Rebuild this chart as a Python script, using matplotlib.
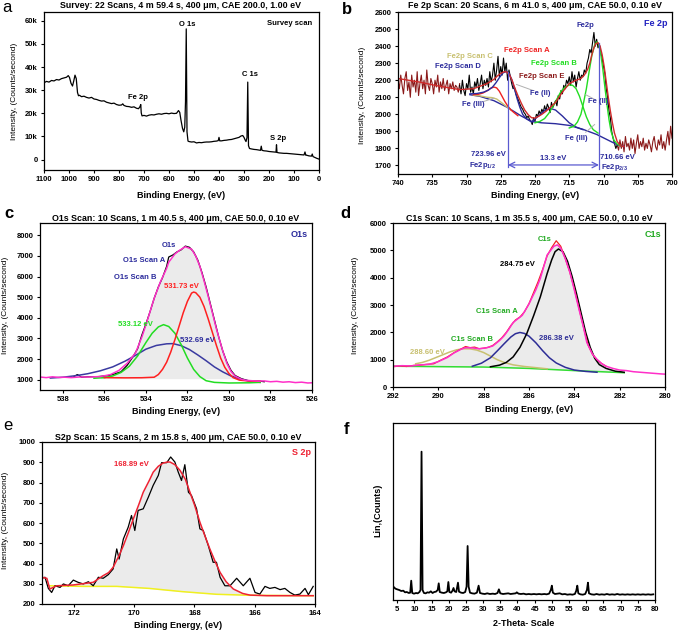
import matplotlib
matplotlib.use("Agg")
import matplotlib.pyplot as plt
import numpy as np
from matplotlib.ticker import FuncFormatter

plt.rcParams["font.family"] = ["Liberation Sans", "DejaVu Sans"]
plt.rcParams["mathtext.fontset"] = "custom"
plt.rcParams["mathtext.rm"] = "Liberation Sans"
plt.rcParams["mathtext.bf"] = "Liberation Sans:bold"

W, H = 681, 632

# ---------------- a: survey (binding energy, counts in k)
survey = [
    (1100, 33.2), (1090, 33.8), (1080, 33.5), (1070, 34.2), (1060, 34.0), (1050, 34.6),
    (1040, 34.4), (1030, 35.0), (1020, 35.3), (1010, 35.6), (1003, 36.3), (998, 35.5),
    (992, 33.0), (986, 31.8), (981, 34.0), (976, 36.5), (971, 35.0), (966, 29.0),
    (962, 27.6), (958, 27.8), (950, 27.2), (940, 27.4), (930, 26.9), (920, 26.6),
    (910, 26.9), (900, 26.2), (890, 26.0), (880, 25.6), (870, 25.3), (860, 25.4),
    (850, 24.8), (840, 24.5), (830, 24.2), (820, 24.4), (810, 23.8), (800, 23.5),
    (790, 23.6), (785, 24.1), (780, 23.4), (770, 23.0), (760, 22.9), (750, 22.6),
    (740, 22.8), (730, 22.2), (722, 22.0), (716, 22.9), (713, 23.8), (711, 20.2),
    (708, 18.9), (700, 19.1), (690, 18.8), (680, 19.2), (670, 19.4), (660, 19.3),
    (650, 19.6), (640, 19.8), (630, 19.6), (620, 19.9), (610, 20.0), (600, 19.8),
    (590, 20.1), (580, 19.9), (570, 20.0), (562, 21.2), (557, 20.4), (552, 17.0),
    (546, 13.5), (541, 12.0), (537, 14.0), (534, 25.0), (531, 56.5), (528, 12.0),
    (524, 8.0), (520, 7.8), (510, 7.6), (500, 7.7), (490, 7.2), (480, 7.4),
    (470, 7.3), (460, 7.5), (450, 7.6), (440, 7.6), (430, 7.7), (420, 7.9),
    (410, 8.0), (403, 8.2), (400, 9.6), (397, 8.1), (390, 8.1), (380, 8.3),
    (370, 8.4), (360, 8.6), (350, 8.7), (340, 9.0), (330, 9.3), (320, 9.6),
    (312, 10.2), (305, 10.4), (300, 9.6), (296, 8.6), (292, 7.8), (288, 9.5),
    (285, 33.5), (282, 6.0), (278, 4.8), (270, 4.6), (260, 4.4), (250, 4.3),
    (240, 4.1), (234, 4.0), (231, 5.8), (228, 4.0), (220, 3.8), (210, 3.7),
    (200, 3.5), (190, 3.4), (180, 3.3), (172, 3.2), (170, 6.4), (168, 3.1),
    (160, 2.9), (150, 2.8), (140, 2.7), (130, 2.7), (120, 2.6), (110, 2.5),
    (100, 2.4), (90, 2.3), (80, 2.2), (70, 2.1), (60, 2.0), (56, 3.3),
    (53, 1.9), (50, 1.9), (40, 1.6), (30, 1.5), (27, 2.4), (24, 1.3),
    (20, 1.1), (10, 0.6), (0, 0.2),
]

# ---------------- b: Fe 2p
fe_raw_left = [2200, 2150, 2230, 2170, 2120, 2210, 2250, 2140, 2190, 2100, 2230, 2160,
               2200, 2130, 2250, 2110, 2180, 2230, 2150, 2200, 2120, 2260, 2170, 2140,
               2210, 2180, 2120, 2200, 2160, 2230, 2130, 2190, 2150, 2210, 2140, 2170,
               2200, 2120, 2180, 2150, 2190, 2140, 2170, 2160, 2130, 2180]
fe_raw_mid = [2170, 2120, 2200, 2140, 2110, 2180, 2150, 2230, 2130, 2160,
              2120, 2190, 2160, 2210, 2140, 2180, 2230, 2150, 2200, 2170,
              2210, 2160, 2250, 2190, 2230, 2300, 2200, 2260, 2340, 2220,
              2280, 2230, 2330, 2250, 2300, 2200, 2260, 2220, 2180, 2150,
              2160, 2120, 2100, 2080, 2060, 2040, 2030, 2010, 2000, 1980,
              1990, 1970, 1960, 1940, 1980, 1960, 2000, 1990, 2020, 2000,
              2030, 2010, 2050, 2020, 2060, 2040, 2010, 2070, 2040, 2060,
              2080, 2050, 2110, 2090, 2140, 2120, 2170, 2150, 2200, 2180,
              2220, 2170, 2250, 2190, 2230, 2160, 2210, 2250, 2200, 2230,
              2220, 2260, 2240, 2300, 2330, 2380, 2360, 2420, 2480, 2400,
              2440, 2390, 2410, 2360, 2330, 2280, 2240, 2150, 2100, 2020,
              1980, 1900, 1860, 1830, 1800, 1820]
fe_raw_right = [1820, 1790, 1850, 1800, 1840, 1780, 1870, 1810, 1830, 1790, 1860, 1800,
                1850, 1770, 1830, 1880, 1800, 1840, 1810, 1860, 1790, 1830, 1800, 1850,
                1820, 1780, 1840, 1870, 1810, 1790, 1850, 1820, 1880, 1800, 1840, 1790,
                1850, 1900, 1820, 1930, 1860]
fe_env = [(740, 2210), (737, 2190), (734, 2165), (731, 2145), (729, 2150), (727, 2180),
          (726, 2205), (725.5, 2225), (725, 2240), (724.5, 2250), (724.1, 2248),
          (723.7, 2230), (723.3, 2195), (723, 2160), (722.5, 2110), (722, 2065),
          (721.5, 2025), (721, 1998), (720.5, 1980), (720, 1978), (719.5, 1988),
          (719, 2000), (718.5, 2015), (718, 2032), (717, 2070), (716, 2130), (715, 2180),
          (714, 2200), (713.3, 2210), (712.8, 2230), (712.3, 2265), (712.0, 2300),
          (711.7, 2350), (711.4, 2390), (711.1, 2415), (710.8, 2420), (710.5, 2400),
          (710.2, 2350), (709.9, 2280), (709.6, 2190), (709.3, 2100), (709.0, 2020),
          (708.7, 1950), (708.4, 1890), (708.0, 1840), (707.5, 1815), (707, 1810)]
fe_base = [(729.5, 2115), (728, 2105), (726, 2080), (724, 2040), (722, 1990),
           (720.5, 1958), (719, 1950), (717, 1945), (715, 1935), (713, 1912),
           (711, 1882), (709.5, 1852), (708, 1822), (707, 1810)]
fe_d = [(729.5, 2120), (728.5, 2122), (727.5, 2130), (726.8, 2142), (726.2, 2160),
        (725.7, 2185), (725.2, 2215), (724.7, 2242), (724.2, 2252), (723.8, 2240),
        (723.4, 2205), (723.0, 2150), (722.6, 2090), (722.2, 2040), (721.8, 2000),
        (721.3, 1975), (720.7, 1960)]
fe_a = [(729, 2115), (728.3, 2117), (727.6, 2125), (727.0, 2138), (726.5, 2152),
        (726.0, 2160), (725.6, 2155), (725.2, 2135), (724.8, 2105), (724.4, 2075),
        (724.0, 2050), (723.5, 2025), (723.0, 2008), (722.5, 1992)]
fe_c = [(729, 2112), (728, 2108), (727, 2100), (726.3, 2098), (725.6, 2090),
        (725, 2072), (724.3, 2050), (723.5, 2025)]
fe_b1 = [(720, 1950), (719.3, 1958), (718.6, 1975), (718.0, 2005), (717.4, 2045),
         (716.8, 2090), (716.2, 2135), (715.6, 2160), (715.0, 2172), (714.5, 2170),
         (714.0, 2150), (713.5, 2105), (713.0, 2045), (712.5, 1985), (712.0, 1940),
         (711.5, 1910), (710.8, 1890)]
fe_b2 = [(715, 1920), (714.3, 1930), (713.8, 1955), (713.3, 2000), (712.9, 2070),
         (712.5, 2150), (712.1, 2250), (711.7, 2345), (711.3, 2405), (711.0, 2425),
         (710.7, 2410), (710.4, 2355), (710.1, 2265), (709.8, 2160), (709.5, 2060),
         (709.2, 1970), (708.9, 1900), (708.5, 1850), (708.0, 1825), (707.5, 1815)]
fe_e = [(720.5, 1955), (719.5, 1990), (718.5, 2025), (717.8, 2035), (717, 2025),
        (716, 1990), (715, 1950), (714, 1925), (713, 1910)]

# ---------------- c: O1s
o1s_env = [(539.1, 1130), (538.8, 1100), (538.5, 1140), (538.2, 1110), (537.9, 1120),
           (537.6, 1100), (537.2, 1130), (536.8, 1130), (536.2, 1150), (535.7, 1250),
           (535.3, 1450), (534.9, 1800), (534.5, 2300), (534.2, 3050), (534.0, 3650),
           (533.6, 4950), (533.3, 5750), (533.0, 6400), (532.9, 6700), (532.6, 7100),
           (532.4, 7260), (532.1, 7450), (531.8, 7330), (531.6, 7000), (531.4, 6500),
           (531.2, 5800), (531.0, 5050), (530.8, 4250), (530.6, 3450), (530.3, 2400),
           (530.1, 1800), (529.9, 1400), (529.7, 1170), (529.4, 1020), (529.2, 970),
           (528.9, 950), (528.6, 930), (528.3, 940), (528.0, 900), (527.7, 920),
           (527.4, 880), (527.1, 900), (526.8, 860), (526.5, 880), (526.2, 840), (526.0, 850)]
o1s_raw = [(537.5, 1130), (537.3, 1250), (537.1, 1120), (536.8, 1140), (536.3, 1150),
           (535.8, 1200), (535.5, 1280), (535.2, 1380), (534.9, 1700), (534.6, 2150),
           (534.4, 2500), (534.2, 3150), (534.0, 3700), (533.8, 4300), (533.6, 4950),
           (533.4, 5500), (533.2, 5950), (533.0, 6500), (532.9, 6950), (532.7, 7050),
           (532.5, 7200), (532.3, 7300), (532.1, 7480), (531.9, 7420), (531.7, 7200),
           (531.5, 6800), (531.3, 6200), (531.1, 5500), (530.9, 4700), (530.7, 3900),
           (530.5, 3100), (530.3, 2400), (530.1, 1850), (529.9, 1450), (529.7, 1200),
           (529.4, 1050), (529.1, 960), (528.8, 930), (528.5, 930), (528.3, 900)]
o1s_red = [(536.0, 1100), (535.0, 1090), (534.2, 1095), (533.6, 1120), (533.4, 1250),
           (533.2, 1500), (533.0, 1850), (532.8, 2350), (532.6, 2950), (532.4, 3600),
           (532.2, 4250), (532.0, 4800), (531.8, 5200), (531.7, 5250), (531.6, 5220),
           (531.4, 5000), (531.2, 4550), (531.0, 3950), (530.8, 3300), (530.6, 2650),
           (530.4, 2050), (530.2, 1600), (530.0, 1300), (529.8, 1100), (529.5, 980),
           (529.0, 930), (528.5, 920)]
o1s_green = [(536.5, 1070), (536.0, 1100), (535.6, 1180), (535.2, 1350), (534.8, 1650),
             (534.4, 2150), (534.0, 2800), (533.7, 3250), (533.4, 3560), (533.15, 3670),
             (532.9, 3580), (532.6, 3250), (532.3, 2700), (532.0, 2050), (531.7, 1500),
             (531.4, 1150), (531.1, 950), (530.7, 870), (530.0, 840), (529.0, 850),
             (528.5, 870)]
o1s_blue = [(538.6, 1080), (538.0, 1120), (537.4, 1190), (536.8, 1290), (536.2, 1430),
            (535.6, 1620), (535.0, 1900), (534.5, 2180), (534.0, 2480), (533.5, 2660),
            (533.0, 2740), (532.7, 2750), (532.3, 2650), (531.9, 2460), (531.5, 2200),
            (531.1, 1920), (530.7, 1620), (530.3, 1380), (529.9, 1180), (529.5, 1040),
            (529.0, 930), (528.5, 870)]

# ---------------- d: C1s
c1s_env = [(292.0, 760), (291.6, 780), (291.2, 770), (290.8, 810), (290.4, 830),
           (290.0, 930), (289.6, 1080), (289.3, 1250), (289.0, 1380), (288.8, 1440),
           (288.5, 1430), (288.2, 1400), (287.9, 1430), (287.6, 1500), (287.3, 1700),
           (287.1, 1870), (286.9, 2100), (286.7, 2360), (286.3, 2620), (286.0, 3040),
           (285.7, 3550), (285.5, 3970), (285.2, 4830), (284.9, 5150), (284.75, 5200),
           (284.6, 5080), (284.4, 4700), (284.2, 4210), (284.0, 3550), (283.8, 2860),
           (283.6, 2200), (283.45, 1630), (283.2, 1200), (283.0, 1010), (282.8, 860),
           (282.6, 760), (282.3, 680), (282.0, 620), (281.7, 600), (281.4, 560),
           (281.1, 540), (280.8, 520), (280.5, 500), (280.2, 480), (280.0, 470)]
c1s_raw = [(292.0, 740), (291.7, 770), (291.4, 750), (291.1, 790), (290.8, 800),
           (290.5, 830), (290.2, 850), (289.9, 980), (289.6, 1100), (289.3, 1260),
           (289.0, 1390), (288.8, 1480), (288.6, 1440), (288.4, 1460), (288.2, 1400),
           (288.0, 1420), (287.8, 1450), (287.6, 1520), (287.4, 1650), (287.2, 1800),
           (287.0, 2000), (286.8, 2250), (286.6, 2450), (286.4, 2560), (286.2, 2750),
           (286.0, 3050), (285.8, 3450), (285.6, 3850), (285.4, 4300), (285.2, 4800),
           (285.0, 5100), (284.8, 5350), (284.6, 5150), (284.4, 4700), (284.2, 4200),
           (284.0, 3600), (283.8, 2900), (283.6, 2200), (283.4, 1550), (283.2, 1200),
           (283.0, 1000), (282.8, 860), (282.6, 760)]
c1s_black = [(287.7, 740), (287.3, 800), (287.0, 900), (286.7, 1100), (286.4, 1450),
             (286.1, 1950), (285.8, 2600), (285.5, 3300), (285.2, 4150), (285.0, 4650),
             (284.85, 4950), (284.7, 5050), (284.5, 4950), (284.3, 4600), (284.1, 4050),
             (283.9, 3400), (283.7, 2700), (283.5, 2000), (283.3, 1450), (283.1, 1050),
             (282.9, 820), (282.6, 680), (282.2, 580), (281.8, 540)]
c1s_blue = [(288.5, 760), (288.1, 870), (287.7, 1070), (287.4, 1320), (287.1, 1580),
            (286.8, 1830), (286.6, 1950), (286.4, 1995), (286.2, 1960), (286.0, 1860),
            (285.7, 1620), (285.4, 1330), (285.1, 1070), (284.8, 880), (284.4, 720),
            (284.0, 620), (283.5, 570), (283.0, 540)]
c1s_khaki = [(291.0, 850), (290.7, 900), (290.4, 980), (290.1, 1080), (289.8, 1180),
             (289.5, 1280), (289.2, 1360), (288.9, 1400), (288.6, 1395), (288.3, 1350),
             (288.0, 1260), (287.7, 1130), (287.4, 1000), (287.1, 900), (286.7, 810),
             (286.2, 750), (285.6, 700), (285.2, 665)]
c1s_green = [(292.0, 760), (290.0, 745), (288.0, 730), (286.0, 680), (284.0, 600),
             (282.0, 530), (281.8, 520)]

# ---------------- e: S2p
s2p_raw = [(173.07, 327), (172.96, 332), (172.85, 277), (172.74, 257), (172.63, 290),
           (172.46, 282), (172.35, 299), (172.19, 290), (172.02, 318), (171.86, 307),
           (171.69, 299), (171.52, 310), (171.36, 290), (171.19, 332), (171.03, 327),
           (170.86, 345), (170.7, 373), (170.58, 472), (170.5, 422), (170.36, 521),
           (170.2, 579), (170.09, 637), (169.98, 563), (169.87, 662), (169.7, 670),
           (169.53, 728), (169.37, 786), (169.2, 835), (169.09, 898), (168.92, 898),
           (168.79, 926), (168.65, 901), (168.54, 852), (168.43, 810), (168.32, 888),
           (168.2, 752), (168.1, 736), (167.93, 670), (167.82, 571), (167.71, 563),
           (167.54, 488), (167.38, 406), (167.27, 406), (167.15, 332), (166.99, 290),
           (166.82, 290), (166.6, 327), (166.38, 290), (166.16, 327), (165.99, 257),
           (165.83, 249), (165.66, 287), (165.5, 277), (165.33, 282), (165.16, 271),
           (165.0, 277), (164.83, 257), (164.67, 244), (164.5, 249), (164.33, 277),
           (164.22, 246), (164.06, 287)]
s2p_fit = [(173.07, 332), (172.9, 327), (172.8, 274), (172.57, 290), (172.02, 294),
           (171.36, 307), (171.03, 340), (170.85, 355), (170.7, 381), (170.5, 440),
           (170.36, 488), (170.2, 550), (170.03, 620), (169.85, 690), (169.7, 752),
           (169.5, 810), (169.37, 851), (169.2, 880), (169.04, 896), (168.9, 901),
           (168.81, 901), (168.65, 888), (168.48, 860), (168.3, 815), (168.15, 752),
           (168.0, 690), (167.82, 604), (167.65, 535), (167.49, 472), (167.3, 405),
           (167.15, 356), (166.95, 310), (166.71, 274), (166.4, 252), (166.16, 244),
           (165.6, 241), (164.06, 241)]
s2p_base = [(172.8, 290), (171.69, 287), (170.58, 287), (169.5, 277), (168.4, 261),
            (167.27, 248), (166.16, 243), (164.06, 241)]

# ---------------- f: XRD (2-theta, counts)
xrd = [(3.9, 40), (4.5, 34), (5.0, 32), (5.6, 30), (6.2, 27), (6.8, 28), (7.3, 23),
       (7.8, 24), (8.4, 21), (8.8, 22), (9.1, 58), (9.4, 21), (9.9, 19), (10.5, 21),
       (11.0, 20), (11.5, 24), (11.8, 30), (12.1, 445), (12.4, 30), (12.8, 21),
       (13.3, 20), (13.8, 23), (14.3, 22), (14.8, 26), (15.3, 21), (15.8, 24),
       (16.3, 25), (16.8, 30), (17.1, 50), (17.4, 24), (18.0, 22), (18.6, 21),
       (19.2, 23), (19.6, 26), (19.9, 54), (20.2, 24), (20.7, 22), (21.1, 28),
       (21.4, 36), (21.7, 26), (22.2, 24), (22.7, 52), (23.0, 25), (23.6, 22),
       (24.2, 21), (24.8, 24), (25.2, 40), (25.5, 162), (25.8, 40), (26.2, 22),
       (26.8, 20), (27.5, 19), (28.2, 22), (28.7, 43), (29.1, 21), (29.8, 19),
       (30.5, 18), (31.2, 20), (32.0, 18), (32.8, 19), (33.5, 18), (34.2, 21),
       (34.6, 32), (35.0, 20), (35.8, 18), (36.5, 19), (37.3, 20), (38.0, 18),
       (38.8, 19), (39.5, 20), (39.8, 23), (40.3, 19), (41.0, 18), (41.8, 19),
       (42.5, 17), (43.3, 18), (44.0, 17), (44.8, 18), (45.5, 17), (46.3, 18),
       (47.0, 17), (47.8, 18), (48.5, 17), (49.2, 19), (49.7, 30), (50.0, 43),
       (50.3, 22), (50.9, 18), (51.6, 19), (52.3, 20), (53.0, 17), (53.8, 18),
       (54.5, 16), (55.3, 17), (56.0, 16), (56.7, 18), (57.1, 28), (57.4, 43),
       (57.7, 20), (58.3, 17), (59.0, 16), (59.7, 18), (60.2, 30), (60.5, 52),
       (60.8, 20), (61.5, 17), (62.3, 16), (63.0, 18), (63.8, 16), (64.5, 17),
       (65.3, 16), (66.0, 18), (66.8, 16), (67.5, 17), (68.3, 16), (69.0, 18),
       (69.8, 16), (70.5, 17), (71.3, 16), (72.0, 17), (72.8, 16), (73.5, 17),
       (74.3, 16), (75.0, 17), (75.8, 16), (76.5, 17), (77.3, 16), (78.0, 17),
       (78.8, 16), (79.5, 17)]

NAVY = "#2b2b9c"
MAGENTA = "#ff2fc8"
GREEN = "#22dd22"
RED = "#ee2222"
KHAKI = "#c8c070"
MAROON = "#8b1a1a"
TICK = dict(labelsize=5.5, length=2.5, width=0.8, pad=2, direction="out")
TITLE = dict(fontsize=6.4, fontweight="bold", ha="center", va="center")
XLAB = dict(fontsize=6.5, fontweight="bold", ha="center", va="center")

fig = plt.figure(figsize=(W / 100, H / 100), dpi=100)


def xy(pairs):
    a = np.array(pairs, dtype=float)
    return a[:, 0], a[:, 1]


def px_axes(x0, y0, x1, y1):
    ax = fig.add_axes([x0 / W, 1 - y1 / H, (x1 - x0) / W, (y1 - y0) / H])
    for s in ax.spines.values():
        s.set_linewidth(0.9)
    ax.tick_params(**TICK)
    return ax


def bold_ticks(ax):
    for lab in ax.get_xticklabels() + ax.get_yticklabels():
        lab.set_fontweight("bold")


def ftext(x, y, s, **kw):
    fig.text(x / W, 1 - y / H, s, **kw)


def ylab(x, y, s):
    ftext(x, y, s, rotation=90, ha="center", va="center", fontsize=6)


# ---- a
ax = px_axes(44, 12, 319, 170)
ax.plot(*xy(survey), color="black", lw=0.9)
ax.set_xlim(1100, 0)
ax.set_ylim(-4.5, 63.8)
ax.set_xticks(np.arange(1100, -1, -100))
ax.set_yticks(np.arange(0, 61, 10))
ax.yaxis.set_major_formatter(FuncFormatter(lambda v, p: "0" if v == 0 else f"{int(v)}k"))
bold_ticks(ax)
ax.text(0.975, 0.95, "Survey scan", transform=ax.transAxes, ha="right", va="top",
        fontsize=5.5, fontweight="bold")
ax.text(528, 58.5, "O 1s", ha="center", va="center", fontsize=5.5, fontweight="bold")
ax.text(276, 36.6, "C 1s", ha="center", va="center", fontsize=5.5, fontweight="bold")
ax.text(724, 27.0, "Fe 2p", ha="center", va="center", fontsize=5.5, fontweight="bold")
ax.text(164, 9.0, "S 2p", ha="center", va="center", fontsize=5.5, fontweight="bold")
ftext(181, 5, "Survey: 22 Scans, 4 m 59.4 s, 400 μm, CAE 200.0, 1.00 eV", **TITLE)
ftext(181, 196, "Binding Energy, (eV)", **XLAB)
ylab(15, 91, "Intensity, (Counts/second)")
ftext(2, 8, "a", fontsize=12, va="center")

# ---- b
ax = px_axes(398, 12, 672, 174)
ax.plot(np.linspace(740, 731, len(fe_raw_left)), fe_raw_left, color=MAROON, lw=0.8)
ax.plot(np.linspace(708, 700, len(fe_raw_right)), fe_raw_right, color=MAROON, lw=0.8)
ax.plot(np.linspace(731, 708, len(fe_raw_mid)), fe_raw_mid, color="black", lw=0.8)
ax.plot(*xy(fe_base), color=NAVY, lw=1.0)
ax.plot(*xy(fe_e), color=NAVY, lw=1.0)
ax.plot(*xy(fe_c), color=KHAKI, lw=1.0)
ax.plot(*xy(fe_a), color=RED, lw=1.0)
ax.plot(*xy(fe_d), color=NAVY, lw=1.0)
ax.plot(*xy(fe_b1), color=GREEN, lw=1.0)
ax.plot(*xy(fe_b2), color=GREEN, lw=1.0)
ax.plot(*xy(fe_env), color="#d02a2a", lw=1.0)
# leader lines from the labels
for (x0, y0, x1, y1) in [(722.7, 2175, 720.3, 2140), (712.6, 2115, 711.4, 2090),
                         (712.6, 1895, 711.3, 1940), (727.5, 2075, 726.0, 2095)]:
    ax.plot([x0, x1], [y0, y1], color="#b0b0b0", lw=0.7)
vb = "#5a5ad0"
ax.plot([723.96, 723.96], [2250, 1690], color=vb, lw=0.9)
ax.plot([710.66, 710.66], [2420, 1680], color=vb, lw=0.9)
ax.annotate("", xy=(710.66, 1703), xytext=(723.96, 1703),
            arrowprops=dict(arrowstyle="<->", color=vb, lw=0.9, shrinkA=0, shrinkB=0))
ax.set_xlim(740, 700)
ax.set_ylim(1650, 2600)
ax.set_xticks(np.arange(740, 699, -5))
ax.set_yticks(np.arange(1700, 2601, 100))
bold_ticks(ax)
tk = dict(fontsize=5.5, fontweight="bold", va="center")
ax.text(0.985, 0.955, "Fe 2p", transform=ax.transAxes, ha="right", va="top",
        fontsize=6.5, fontweight="bold", color="#2020c0")
ax.text(712.7, 2520, "Fe2p", ha="center", color=NAVY, **tk)
ax.text(721.2, 2375, "Fe2p Scan A", ha="center", color=RED, **tk)
ax.text(729.5, 2337, "Fe2p Scan C", ha="center", color=KHAKI, **tk)
ax.text(731.2, 2282, "Fe2p Scan D", ha="center", color=NAVY, **tk)
ax.text(717.3, 2300, "Fe2p Scan B", ha="center", color=GREEN, **tk)
ax.text(719.0, 2220, "Fe2p Scan E", ha="center", color=MAROON, **tk)
ax.text(729.0, 2058, "Fe (III)", ha="center", color=NAVY, **tk)
ax.text(719.3, 2122, "Fe (II)", ha="center", color=NAVY, **tk)
ax.text(710.8, 2077, "Fe (II)", ha="center", color=NAVY, **tk)
ax.text(713.9, 1857, "Fe (III)", ha="center", color=NAVY, **tk)
ax.text(724.3, 1762, "723.96 eV", ha="right", color=NAVY, **tk)
ax.text(727.6, 1700, r"Fe2p$_{\mathbf{1/2}}$", ha="center", color=NAVY, **tk)
ax.text(717.3, 1738, "13.3 eV", ha="center", color=NAVY, **tk)
ax.text(710.5, 1746, "710.66 eV", ha="left", color=NAVY, **tk)
ax.text(710.3, 1686, r"Fe2p$_{\mathbf{2/3}}$", ha="left", color=NAVY, **tk)
ftext(535, 6, "Fe 2p Scan: 20 Scans, 6 m 41.0 s, 400 μm, CAE 50.0, 0.10 eV", **TITLE)
ftext(535, 196, "Binding Energy, (eV)", **XLAB)
ylab(362, 95, "Intensity, (Counts/second)")
ftext(342, 10, "b", fontsize=12, fontweight="bold", va="center")

# ---- c
ax = px_axes(40, 223, 312, 390)
ex, ey = xy(o1s_env)
mask = (ex <= 536.5) & (ex >= 529.0)
ax.fill_between(ex[mask], ey[mask], 1050, color="#ebebeb", lw=0)
ax.plot(*xy(o1s_raw), color="black", lw=0.9)
ax.plot(*xy(o1s_blue), color="#3a3aa0", lw=1.1)
ax.plot(*xy(o1s_green), color=GREEN, lw=1.1)
ax.plot(*xy(o1s_red), color="#ff2020", lw=1.1)
ax.plot(ex, ey, color=MAGENTA, lw=1.1)
ax.set_xlim(539.1, 526)
ax.set_ylim(500, 8600)
ax.set_xticks(np.arange(538, 525, -2))
ax.set_yticks(np.arange(1000, 8001, 1000))
bold_ticks(ax)
ax.text(0.985, 0.96, "O1s", transform=ax.transAxes, ha="right", va="top",
        fontsize=6.5, fontweight="bold", color=NAVY)
ax.text(532.9, 7510, "O1s", ha="center", color=NAVY, **tk)
ax.text(534.1, 6780, "O1s Scan A", ha="center", color=NAVY, **tk)
ax.text(534.5, 5940, "O1s Scan B", ha="center", color=NAVY, **tk)
ax.text(532.3, 5540, "531.73 eV", ha="center", color="#ff2020", **tk)
ax.text(534.5, 3670, "533.12 eV", ha="center", color=GREEN, **tk)
ax.text(531.5, 2910, "532.69 eV", ha="center", color=NAVY, **tk)
ftext(176, 218, "O1s Scan: 10 Scans, 1 m 40.5 s, 400 μm, CAE 50.0, 0.10 eV", **TITLE)
ftext(176, 412, "Binding Energy, (eV)", **XLAB)
ylab(6, 305, "Intensity, (Counts/second)")
ftext(4, 213, "c", fontsize=12, fontweight="bold", va="center")

# ---- d
ax = px_axes(393, 223, 665, 387)
ex, ey = xy(c1s_env)
gx, gy = xy(c1s_green)
mask = (ex <= 291.0) & (ex >= 282.2)
ax.fill_between(ex[mask], ey[mask], np.interp(ex[mask], gx[::-1], gy[::-1]),
                color="#ebebeb", lw=0)
ax.plot(gx, gy, color="#33dd33", lw=1.1)
ax.plot(*xy(c1s_khaki), color=KHAKI, lw=1.1)
ax.plot(*xy(c1s_blue), color="#2d2d96", lw=1.1)
ax.plot(*xy(c1s_black), color="black", lw=1.1)
ax.plot(*xy(c1s_raw), color=RED, lw=0.9)
ax.plot(ex, ey, color=MAGENTA, lw=1.1)
ax.set_xlim(292, 280)
ax.set_ylim(0, 6000)
ax.set_xticks(np.arange(292, 279, -2))
ax.set_yticks(np.arange(0, 6001, 1000))
bold_ticks(ax)
ax.text(0.985, 0.96, "C1s", transform=ax.transAxes, ha="right", va="top",
        fontsize=6.5, fontweight="bold", color="#22aa22")
ax.text(285.3, 5380, "C1s", ha="center", color="#22aa22", **tk)
ax.text(286.5, 4480, "284.75 eV", ha="center", color="black", **tk)
ax.text(287.4, 2760, "C1s Scan A", ha="center", color="#22aa22", **tk)
ax.text(288.5, 1750, "C1s Scan B", ha="center", color="#22aa22", **tk)
ax.text(290.5, 1280, "288.60 eV", ha="center", color=KHAKI, **tk)
ax.text(284.8, 1770, "286.38 eV", ha="center", color="#2d2d96", **tk)
ftext(529, 218, "C1s Scan: 10 Scans, 1 m 35.5 s, 400 μm, CAE 50.0, 0.10 eV", **TITLE)
ftext(529, 410, "Binding Energy, (eV)", **XLAB)
ylab(355, 305, "Intensity, (Counts/second)")
ftext(340, 213, "d", fontsize=12, fontweight="bold", va="center")

# ---- e
ax = px_axes(42, 442, 315, 604)
fx, fy = xy(s2p_fit)
sx, sy = xy(s2p_base)
mask = fx <= 172.8
ax.fill_between(fx[mask], fy[mask], np.interp(fx[mask], sx[::-1], sy[::-1]),
                color="#ebebeb", lw=0)
ax.plot(sx, sy, color="#f0f020", lw=1.1)
ax.plot(*xy(s2p_raw), color="black", lw=0.9)
ax.plot(fx, fy, color="#ee2233", lw=1.1)
ax.set_xlim(173.06, 164)
ax.set_ylim(200, 1000)
ax.set_xticks(np.arange(172, 163, -2))
ax.set_yticks(np.arange(200, 1001, 100))
bold_ticks(ax)
ax.text(0.985, 0.96, "S 2p", transform=ax.transAxes, ha="right", va="top",
        fontsize=6.5, fontweight="bold", color="#ee2233")
ax.text(170.09, 888, "168.89 eV", ha="center", color="#ee2233", **tk)
ftext(178, 437, "S2p Scan: 15 Scans, 2 m 15.8 s, 400 μm, CAE 50.0, 0.10 eV", **TITLE)
ftext(178, 625, "Binding Energy, (eV)", **XLAB)
ylab(6, 520, "Intensity, (Counts/second)")
ftext(3, 425, "e", fontsize=12, va="center")

# ---- f
ax = px_axes(393, 423, 655, 600)
ax.plot(*xy(xrd), color="black", lw=1.3)
ax.set_xlim(3.8, 80)
ax.set_ylim(0, 531)
ax.set_xticks(np.arange(5, 81, 5))
ax.set_yticks([])
bold_ticks(ax)
ftext(524, 623, "2-Theta- Scale", **XLAB)
ftext(378, 510, "Lin,(Counts)", rotation=90, ha="center", va="center", fontsize=6.5,
      fontweight="bold")
ftext(344, 430, "f", fontsize=12, fontweight="bold", va="center")

fig.savefig("out.png", dpi=100)
